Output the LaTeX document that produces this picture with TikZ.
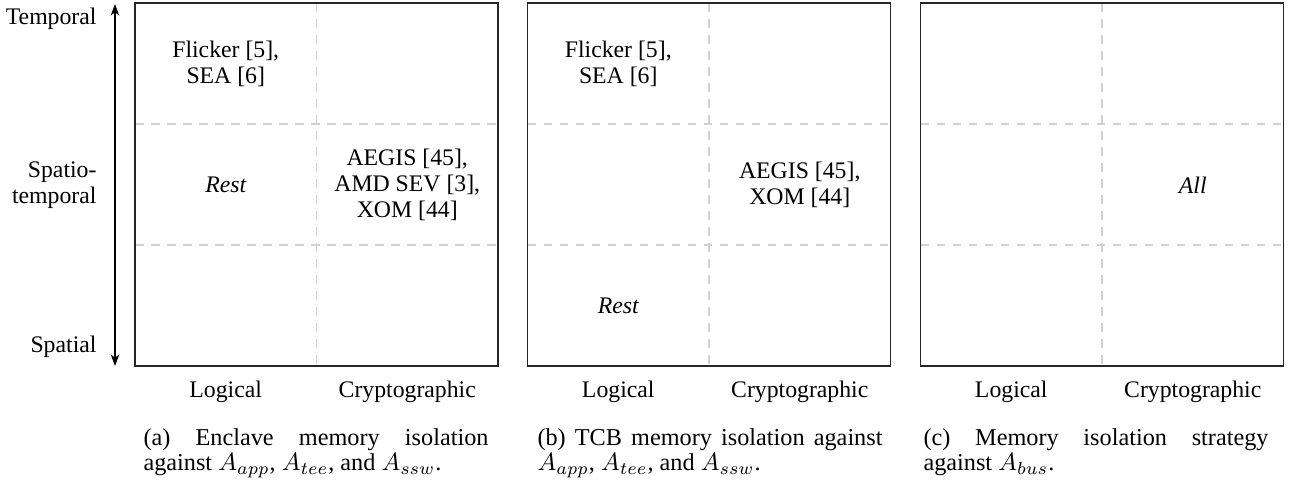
\documentclass[tikz,border=0pt]{standalone}
\usepackage{fontspec}
\setmainfont{Liberation Serif}
\usetikzlibrary{arrows.meta}
\begin{document}
\begin{tikzpicture}[x=0.4pt,y=-0.4pt,
  every node/.style={inner sep=0pt, font=\fontsize{9.5}{10.4}\selectfont},
  panelbox/.style={draw=black!85, line width=0.5pt},
  gridline/.style={draw=black!18, line width=0.45pt, dash pattern=on 3.5pt off 2.9pt},
  celltext/.style={align=center},
  axislabel/.style={anchor=base},
  subcap/.style={anchor=north west, text width=138pt, align=justify, font=\fontsize{9.7}{10}\selectfont},
  ylab/.style={align=right, anchor=east},
  dblarrow/.style={line width=0.7pt, {Stealth[length=4.6pt,width=3.4pt,inset=1.3pt]}-{Stealth[length=4.6pt,width=3.4pt,inset=1.3pt]}}
]
\useasboundingbox (0,0) rectangle (1291,485);

% vertical axis
\coordinate (ytop) at (115,4);
\coordinate (ybot) at (115,366);
\draw[dblarrow] (ytop) -- (ybot);
\node[ylab] (temporal) at (97,19) {Temporal};
\node[ylab] (spatiotemporal) at (97,185) {Spatio-\\temporal};
\node[ylab] (spatial) at (97,347) {Spatial};

% panel (a)
\draw[gridline] (316.5,3) -- (316.5,366);
\draw[gridline] (135,124) -- (498,124);
\draw[gridline] (135,245) -- (498,245);
\draw[panelbox] (135,3) rectangle (498,366);
\node[celltext] (a11) at (225.75,63.5) {Flicker [5],\\SEA [6]};
\node[celltext] (a21) at (225.75,185) {\itshape Rest};
\node[celltext] (a22) at (407.25,185) {AEGIS [45],\\AMD SEV [3],\\XOM [44]};
\node[axislabel] (alog) at (225.75,397) {Logical};
\node[axislabel] (acry) at (407.25,397) {Cryptographic};
\node[subcap] (acap) at (143,428) {(a) Enclave memory isolation\linebreak against $A_{app}$, $A_{tee}$, and $A_{ssw}$.};

% panel (b)
\draw[gridline] (709,3) -- (709,366);
\draw[gridline] (527.5,124) -- (890.5,124);
\draw[gridline] (527.5,245) -- (890.5,245);
\draw[panelbox] (527.5,3) rectangle (890.5,366);
\node[celltext] (b11) at (618.25,63.5) {Flicker [5],\\SEA [6]};
\node[celltext] (b22) at (799.75,185) {AEGIS [45],\\XOM [44]};
\node[celltext] (b31) at (618.25,305.5) {\itshape Rest};
\node[axislabel] (blog) at (618.25,397) {Logical};
\node[axislabel] (bcry) at (799.75,397) {Cryptographic};
\node[subcap] (bcap) at (537,428) {(b) TCB memory isolation against\linebreak $A_{app}$, $A_{tee}$, and $A_{ssw}$.};

% panel (c)
\draw[gridline] (1102,3) -- (1102,366);
\draw[gridline] (920.5,124) -- (1283.5,124);
\draw[gridline] (920.5,245) -- (1283.5,245);
\draw[panelbox] (920.5,3) rectangle (1283.5,366);
\node[celltext] (c22) at (1192.75,185) {\itshape All};
\node[axislabel] (clog) at (1011.25,397) {Logical};
\node[axislabel] (ccry) at (1192.75,397) {Cryptographic};
\node[subcap] (ccap) at (923,428) {(c) Memory isolation strategy\linebreak against $A_{bus}$.};
\end{tikzpicture}
\end{document}
